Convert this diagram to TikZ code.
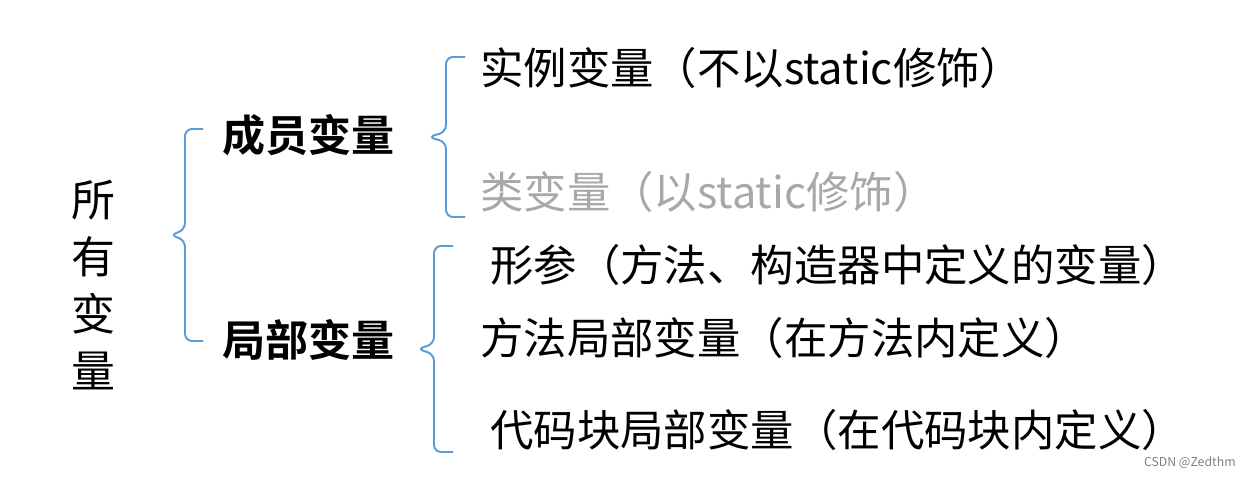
\documentclass[tikz,border=0pt]{standalone}
\usepackage{fontspec}
\setmainfont{Noto Sans CJK SC}[BoldFont={Noto Sans CJK SC Bold}]
\usepackage{tikz}
\usetikzlibrary{positioning}
\definecolor{braceblue}{RGB}{91,155,213}
\definecolor{fadegray}{RGB}{168,168,168}
\tikzset{
  item/.style={anchor=west, inner sep=0pt, font=\fontsize{24.7}{28}\selectfont},
  head/.style={item, font=\fontsize{24.5}{28}\selectfont\bfseries},
  bracket/.style={draw=braceblue, line width=1.1pt, rounded corners=4pt},
}
% #1 tip x, #2 stem x, #3 arm x, #4 top y, #5 bottom y
\newcommand{\cbrace}[5]{%
  \draw[bracket] (#3,#4) -- (#2,#4) -- (#2,{(#4+#5)/2-5}) -- (#1,{(#4+#5)/2})
    -- (#2,{(#4+#5)/2+5}) -- (#2,#5) -- (#3,#5);}

\begin{document}
\begin{tikzpicture}[x=0.2mm, y=-0.2mm]
    \useasboundingbox (0,0) rectangle (1249,477);

    % Root
    \node[inner sep=0pt, align=center, font=\fontsize{25}{32.4}\selectfont] (all) at (93,285) {所\\有\\变\\量};

    % Groups
    \node[head] (member) at (222,135) {成员变量};
    \node[head] (local) at (222,340) {局部变量};

    % Items
    \node[item] (inst) at (480,68) {实例变量（不以static修饰）};
    \node[item, text=fadegray] (cls) at (480,192) {类变量（以static修饰）};
    \node[item] (param) at (490,265) {形参（方法、构造器中定义的变量）};
    \node[item] (meth) at (480,338) {方法局部变量（在方法内定义）};
    \node[item] (block) at (490,430) {代码块局部变量（在代码块内定义）};

    % Braces
    \cbrace{170}{185}{203}{129}{341}
    \cbrace{428}{446}{465}{57}{217}
    \cbrace{417}{434}{453}{246}{452}

    % Watermark
    \node[anchor=east, inner sep=0pt, font=\fontsize{7}{8}\selectfont, text=gray] (mark) at (1236,463) {CSDN @Zedthm};
\end{tikzpicture}
\end{document}
